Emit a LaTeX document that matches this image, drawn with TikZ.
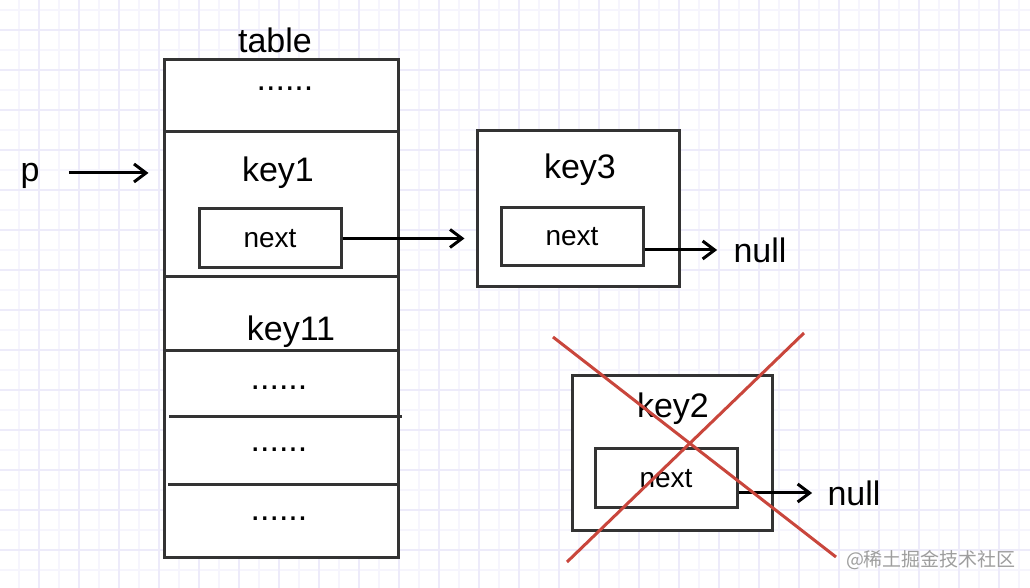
\documentclass[tikz,border=0pt]{standalone}
\usepackage{fontspec}
\setmainfont{Liberation Sans}
\newfontfamily\cjk{Noto Sans CJK SC}
\usetikzlibrary{arrows.meta}
\definecolor{gridlight}{HTML}{F6F5FD}
\definecolor{griddark}{HTML}{EDEBFA}
\definecolor{boxline}{HTML}{333333}
\definecolor{crossred}{HTML}{C9463C}

\begin{document}
\begin{tikzpicture}[x=0.5pt,y=-0.5pt]
\tikzstyle{box}=[rectangle, draw=boxline, line width=1.5pt, fill=white, inner sep=0]
\tikzstyle{lbl}=[inner sep=0, font=\fontsize{17}{20}\selectfont]
\tikzstyle{arr}=[line width=1.5pt, -{Straight Barb[length=6pt,width=9pt]}]

% paper grid
\fill[white] (0,0) rectangle (1030,588);
\useasboundingbox (0,0) rectangle (1030,588);
\foreach \gx in {19,39,...,1030}
  \draw[gridlight, line width=0.8pt] (\gx,0) -- (\gx,588);
\foreach \gy in {10,30,...,588}
  \draw[gridlight, line width=0.8pt] (0,\gy) -- (1030,\gy);
\foreach \gx in {39,79,...,1030}
  \draw[griddark, line width=0.8pt] (\gx,0) -- (\gx,588);
\foreach \gy in {30,70,...,588}
  \draw[griddark, line width=0.8pt] (0,\gy) -- (1030,\gy);

% table
\node[box, minimum width=117pt, minimum height=249pt] (tbl) at (281,309) {};
\draw[boxline, line width=1.5pt] (164,132) -- (398,132);
\draw[boxline, line width=1.5pt] (164,277) -- (398,277);
\draw[boxline, line width=1.5pt] (164,351) -- (398,351);
\draw[boxline, line width=1.5pt] (169,417) -- (402,417);
\draw[boxline, line width=1.5pt] (168,485) -- (398,485);

\node[lbl] (title) at (275,40) {table};
\node[lbl] (dots1) at (285,89) {......};
\node[lbl] (key1) at (278,173) {key1};
\node[box, minimum width=71pt, minimum height=29.5pt,
    font=\fontsize{14}{16}\selectfont] (next1) at (270,238.5) {next};
\node[lbl] (key11) at (291,332) {key11};
\node[lbl] (dots2) at (279,388) {......};
\node[lbl] (dots3) at (279,450) {......};
\node[lbl] (dots4) at (279,519) {......};

\node[lbl] (p) at (30,176) {p};

% key3
\node[box, minimum width=101pt, minimum height=78pt] (k3box) at (578,209) {};
\node[lbl] (key3) at (580,170) {key3};
\node[box, minimum width=71pt, minimum height=29pt,
    font=\fontsize{14}{16}\selectfont] (next3) at (572,237) {next};
\node[lbl] (null3) at (760,250) {null};

% key2
\node[box, minimum width=100pt, minimum height=77.5pt] (k2box) at (672,453.5) {};
\node[lbl] (key2) at (673,409) {key2};
\node[box, minimum width=71pt, minimum height=29.5pt,
    font=\fontsize{14}{16}\selectfont] (next2) at (666,478.5) {next};
\node[lbl] (null2) at (854,493) {null};

% pointers
\draw[arr, shorten <=14.5pt, shorten >=7pt] (p.east |- key1) -- (tbl.west |- key1);
\draw[arr, shorten >=5.5pt] (next1.east) -- (next1.east -| k3box.west);
\draw[arr, shorten >=8pt] (next3.east |- null3) -- (null3.west);
\draw[arr, shorten >=7.5pt] (next2.east |- null2) -- (null2.west);

% removed node
\coordinate (x1) at (553,337);
\coordinate (x2) at (836,557);
\coordinate (x3) at (804,333);
\coordinate (x4) at (567,562);
\draw[crossred, line width=1.5pt] (x1) -- (x2);
\draw[crossred, line width=1.5pt] (x3) -- (x4);

\node[inner sep=0, text=black!38, font=\cjk\fontsize{9.5}{11}\selectfont] (mark) at (931,560) {@稀土掘金技术社区};
\end{tikzpicture}
\end{document}
